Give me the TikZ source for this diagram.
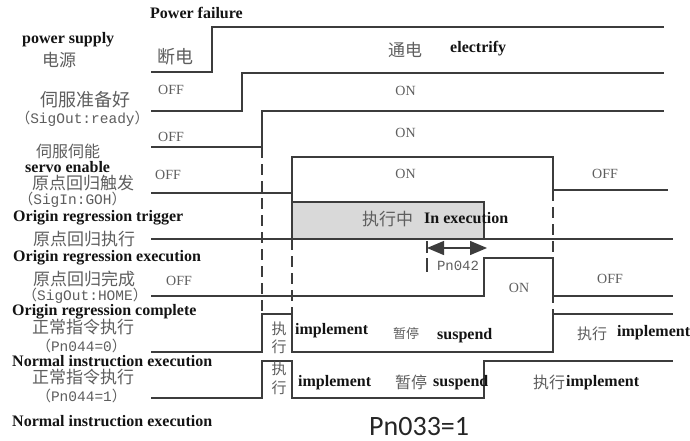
\documentclass[tikz,border=0pt]{standalone}
\usepackage{fontspec}
\setmainfont{Liberation Serif}
\newfontfamily\cjkfont{Noto Sans CJK SC}
\newfontfamily\sigfont{Liberation Mono}
\newfontfamily\carlitofont{Carlito}
\usetikzlibrary{arrows.meta}

\definecolor{wavecol}{HTML}{3C3C3C}
\definecolor{txtgray}{HTML}{5E5E5E}
\definecolor{boxgray}{HTML}{D9D9D9}

\tikzset{
  wave/.style={draw=wavecol, line width=1.3pt, line join=miter},
  guide/.style={draw=wavecol, line width=1.1pt, dash pattern=on 11pt off 6pt},
  en/.style={font=\fontsize{16}{16}\selectfont\bfseries, text=black!92, inner sep=0pt,
    anchor=west, text height=11pt, text depth=3pt},
  zh/.style={font=\fontsize{17}{17}\selectfont\cjkfont, text=txtgray, inner sep=0pt, anchor=west},
  zhs/.style={font=\fontsize{#1}{#1}\selectfont\cjkfont, text=txtgray, inner sep=0pt, anchor=west},
  zhc/.style={font=\fontsize{15}{15}\selectfont\cjkfont, text=txtgray, inner sep=0pt, anchor=center},
  lvl/.style={font=\fontsize{14}{14}\selectfont, text=txtgray, inner sep=0pt, anchor=center,
    text height=9.3pt, text depth=0pt},
  sig/.style={font=\fontsize{14.5}{14.5}\selectfont\sigfont, text=txtgray, inner sep=0pt,
    anchor=center, text height=9.5pt, text depth=1pt},
  bigtri/.tip={Triangle[length=17pt,width=14pt]},
}
\newcommand{\fwl}{{\cjkfont （}}
\newcommand{\fwr}{{\cjkfont ）}}

\begin{document}
\begin{tikzpicture}[x=1pt,y=-1pt]
\useasboundingbox[fill=white] (0,0) rectangle (690,441);

% ---- execution block (shaded) ----
\filldraw[fill=boxgray, draw=wavecol, line width=1.3pt] (292,202) rectangle (484,239);

% ---- guide lines ----
\draw[guide] (262,147) -- (262,314);
\draw[guide] (292,239) -- (292,314);
\draw[guide] (553,190) -- (553,314);
\draw[guide, dash pattern=on 12pt off 5pt on 14pt off 5pt] (427,241) -- (427,272);

% ---- waveforms ----
% power supply
\draw[wave] (151,72) -- (212,72) -- (212,27) -- (664,27);
% servo ready
\draw[wave] (151,111) -- (242,111) -- (242,73) -- (664,73);
% servo enable
\draw[wave] (151,147) -- (262,147) -- (262,111) -- (664,111);
% origin trigger
\draw[wave] (151,193) -- (292,193) -- (292,157) -- (553,157) -- (553,190) -- (668,190);
\draw[wave] (292,193) -- (292,202);
% origin execution baseline
\draw[wave] (151,239) -- (673,239);
% origin complete
\draw[wave] (151,296) -- (484,296) -- (484,258) -- (553,258) -- (553,296) -- (673,296);
% normal instruction, Pn044=0
\draw[wave] (151,352) -- (262,352) -- (262,314) -- (292,314) -- (292,352) -- (553,352) -- (553,314) -- (673,314);
% normal instruction, Pn044=1
\draw[wave] (151,398) -- (262,398) -- (262,361) -- (292,361) -- (292,398) -- (484,398) -- (484,361) -- (673,361);

% ---- Pn042 interval ----
\coordinate (p42a) at (427,248);
\coordinate (p42b) at (487,248);
\draw[wavecol, line width=1.3pt, {bigtri}-{bigtri}] (p42a) -- (p42b);
\node[sig, font=\fontsize{14}{14}\selectfont\sigfont] (pn42) at (458,266) {Pn042};

% ---- left labels ----
\node[en] (pf) at (150,15) {Power failure};
\node[en] (ps) at (22,40) {power supply};
\node[zh] (dy) at (42,60) {电源};
\node[zhs=18] (rdy) at (40,100) {伺服准备好};
\node[sig] (rdys) at (82.5,119) {\fwl SigOut:ready\fwr};
\node[zhs=16] (sen) at (36,151) {伺服伺能};
\node[en] (sene) at (25,168) {servo enable};
\node[zh] (trg) at (32,183) {原点回归触发};
\node[sig] (trgs) at (72.5,200) {\fwl SigIn:GOH\fwr};
\node[en] (trge) at (13,217) {Origin regression trigger};
\node[zh] (exe) at (33,239) {原点回归执行};
\node[en] (exee) at (13,257) {Origin regression execution};
\node[zh] (cmp) at (33,279) {原点回归完成};
\node[sig] (cmps) at (85,296) {\fwl SigOut:HOME\fwr};
\node[en] (cmpe) at (12,311) {Origin regression complete};
\node[zh] (nz) at (32,327) {正常指令执行};
\node[sig] (nzs) at (81.5,347) {\fwl Pn044=0\fwr};
\node[en] (nze) at (12,362) {Normal instruction execution};
\node[zh] (no) at (32,377) {正常指令执行};
\node[sig] (nos) at (81.5,397) {\fwl Pn044=1\fwr};
\node[en] (noe) at (12,422) {Normal instruction execution};

% ---- state labels ----
\node[zhs=18] (dd) at (157,57) {断电};
\node[zh] (td) at (388,50) {通电};
\node[en] (el) at (450,49) {electrify};
\node[lvl] (off1) at (171,90) {OFF};
\node[lvl] (on1) at (405.5,91) {ON};
\node[lvl] (off2) at (171,137) {OFF};
\node[lvl] (on2) at (405.5,133) {ON};
\node[lvl] (off3) at (168,175) {OFF};
\node[lvl] (on3) at (405.5,174) {ON};
\node[lvl] (off3r) at (605,174) {OFF};
\node[zh] (zxz) at (362,219) {执行中};
\node[en] (inex) at (424,219) {In execution};
\node[lvl] (off4) at (179,281) {OFF};
\node[lvl] (on4) at (519,288) {ON};
\node[lvl] (off4r) at (610,279) {OFF};

% Pn044=0 row
\node[zhc] (a1) at (279,329) {执};
\node[zhc] (a2) at (279,347) {行};
\node[en] (im0) at (295,330) {implement};
\node[zhs=13] (zt0) at (393,334) {暂停};
\node[en] (su0) at (437,335) {suspend};
\node[zhs=15] (zx0) at (577,334) {执行};
\node[en] (im0r) at (617,332) {implement};

% Pn044=1 row
\node[zhc] (b1) at (279,369) {执};
\node[zhc] (b2) at (279,388) {行};
\node[en] (im1) at (298,382) {implement};
\node[zhs=16] (zt1) at (395,382) {暂停};
\node[en] (su1) at (433,382) {suspend};
\node[zhs=16] (zx1) at (533,382) {执行};
\node[en] (im1r) at (566,382) {implement};

% ---- parameter note ----
\node[font=\fontsize{28}{28}\selectfont\carlitofont, text=black!85, inner sep=0pt, anchor=west,
  text height=18pt, text depth=0pt] (pn33) at (369,426) {Pn033=1};
\end{tikzpicture}
\end{document}
